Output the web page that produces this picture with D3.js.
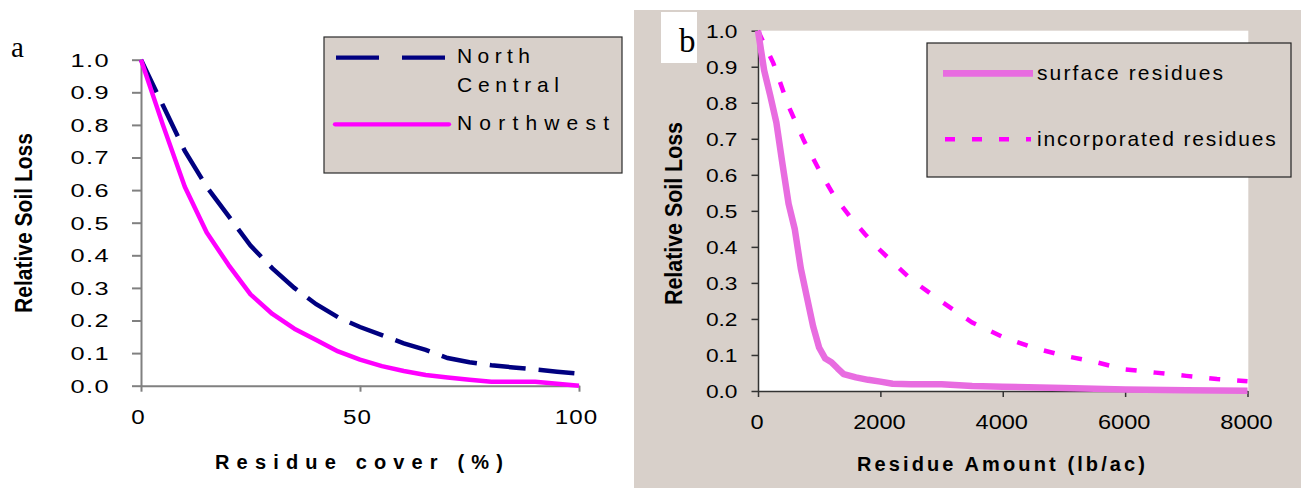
<!DOCTYPE html>
<html><head><meta charset="utf-8">
<script src="https://cdn.jsdelivr.net/npm/d3@7"></script>
<style>
body{margin:0;background:#fff}
svg{display:block}
text{font-family:"Liberation Sans",Arial,sans-serif;fill:#000}
</style>
</head><body>
<svg id="c" width="1301" height="492"></svg>
<script>
// ---- Panel a data ----
const coverPct = [0,5,10,15,20,25,30,35,40,45,50,55,60,65,70,75,80,85,90,95,100];
const northCentral = [1.0,0.86,0.72,0.61,0.52,0.43,0.36,0.30,0.25,0.21,0.18,0.155,0.13,0.11,0.085,0.072,0.063,0.056,0.05,0.043,0.037];
const northwest = [1.0,0.80,0.61,0.47,0.37,0.28,0.22,0.175,0.14,0.105,0.08,0.06,0.045,0.033,0.025,0.018,0.012,0.012,0.012,0.006,0.0];
const lossTicks = [0,0.1,0.2,0.3,0.4,0.5,0.6,0.7,0.8,0.9,1.0];
const coverTicks = [0,50,100];
const seriesA = ["North Central","Northwest"];

// ---- Panel b data ----
const surfaceAmt  = [0,100,200,300,400,500,600,700,800,900,1000,1100,1200,1300,1400,1600,1800,2000,2200,2500,3000,3500,4000,5000,6000,7000,8000];
const surfaceLoss = [1.0,0.89,0.82,0.745,0.63,0.52,0.45,0.34,0.26,0.18,0.12,0.09,0.08,0.063,0.047,0.038,0.031,0.026,0.02,0.019,0.019,0.014,0.012,0.008,0.004,0.002,0.001];
const incorpAmt  = [0,250,500,750,1000,1250,1500,1750,2000,2500,3000,3500,4000,4500,5000,5500,6000,6500,7000,7500,8000];
const incorpLoss = [1.0,0.91,0.79,0.695,0.613,0.54,0.485,0.435,0.39,0.31,0.248,0.19,0.15,0.12,0.098,0.081,0.06,0.051,0.042,0.033,0.027];
const amountTicks = [0,2000,4000,6000,8000];
const seriesB = ["surface residues","incorporated residues"];

const svg = d3.select("#c");

// horizontally stretch axis tick labels around their anchor point
function stretchTicks(g, sx, xPos){
  g.selectAll("text").attr("x", xPos/sx).attr("transform", `scale(${sx},1)`);
}

// ================= Panel a =================
const xA = d3.scaleLinear().domain([0,100]).range([141,579]);
const yA = d3.scaleLinear().domain([0,1]).range([385.7,59.7]);

const gAy = svg.append("g").attr("transform","translate(141,0)")
  .call(d3.axisLeft(yA).tickValues(lossTicks).tickFormat(d3.format(".1f")).tickSize(9).tickSizeOuter(0));
const gAx = svg.append("g").attr("transform","translate(0,385.7)")
  .call(d3.axisBottom(xA).tickValues(coverTicks).tickFormat(d3.format("d")).tickSize(6).tickSizeOuter(0));
[gAy,gAx].forEach(g=>{
  g.attr("font-family",null).attr("font-size",null);
  g.selectAll("path,line").attr("stroke","#808080").attr("stroke-width",2);
});
gAy.selectAll("text").attr("font-size",17.5).attr("dy","0.36em").style("letter-spacing","1px");
stretchTicks(gAy, 1.45, -31);
gAx.selectAll("text").attr("font-size",21).attr("y",38).attr("dy",0).style("letter-spacing","1px");
stretchTicks(gAx, 1.15, -3);

const lineA = d3.line().x((d,i)=>xA(coverPct[i])).y(d=>yA(d));
svg.append("path").attr("d",lineA(northCentral)).attr("fill","none")
  .attr("stroke","#000080").attr("stroke-width",4.5).attr("stroke-dasharray","36,13");
svg.append("path").attr("d",lineA(northwest)).attr("fill","none")
  .attr("stroke","#ff00ff").attr("stroke-width",4.5).attr("stroke-linejoin","round");

svg.append("text").attr("x",359).attr("y",469).attr("text-anchor","middle")
  .attr("font-size",20).attr("font-weight","bold").attr("textLength",288).attr("lengthAdjust","spacing")
  .text("Residue cover (%)");
svg.append("text").attr("transform","translate(32,223) rotate(-90)").attr("text-anchor","middle")
  .attr("font-size",23).attr("font-weight","bold").attr("textLength",180).attr("lengthAdjust","spacingAndGlyphs")
  .text("Relative Soil Loss");
svg.append("text").attr("x",11).attr("y",57).attr("font-size",29)
  .style("font-family","'Liberation Serif','Times New Roman',serif").text("a");

// legend a
svg.append("rect").attr("x",324).attr("y",37).attr("width",298).attr("height",136)
  .attr("fill","#d8d0ca").attr("stroke","#2a2a2a").attr("stroke-width",1.2);
svg.append("line").attr("x1",336).attr("x2",445).attr("y1",57.7).attr("y2",57.7)
  .attr("stroke","#000080").attr("stroke-width",4.3).attr("stroke-dasharray","43,23");
svg.append("line").attr("x1",335).attr("x2",449).attr("y1",124.3).attr("y2",124.3)
  .attr("stroke","#ff00ff").attr("stroke-width",4.3).attr("stroke-linecap","round");
const ncWords = seriesA[0].split(" ");
svg.append("text").attr("x",457).attr("y",62.7).attr("font-size",21).attr("textLength",73).attr("lengthAdjust","spacing").text(ncWords[0]);
svg.append("text").attr("x",457).attr("y",91.7).attr("font-size",21).attr("textLength",102).attr("lengthAdjust","spacing").text(ncWords[1]);
svg.append("text").attr("x",457).attr("y",130).attr("font-size",21).attr("textLength",152).attr("lengthAdjust","spacing").text(seriesA[1]);

// ================= Panel b =================
svg.append("rect").attr("x",634).attr("y",10).attr("width",667).attr("height",478).attr("fill","#d8d0ca");
const xB = d3.scaleLinear().domain([0,8000]).range([758,1247.5]);
const yB = d3.scaleLinear().domain([0,1]).range([391,30.7]);
svg.append("rect").attr("x",758).attr("y",30.7).attr("width",490.3).attr("height",360.3).attr("fill","#fff");

svg.append("rect").attr("x",661).attr("y",12).attr("width",36).attr("height",51).attr("fill","#fff");
svg.append("text").attr("x",679).attr("y",51.7).attr("font-size",33)
  .style("font-family","'Liberation Serif','Times New Roman',serif").text("b");

const gBy = svg.append("g").attr("transform","translate(758,0)")
  .call(d3.axisLeft(yB).tickValues(lossTicks).tickFormat(d3.format(".1f")).tickSize(6.5).tickSizeOuter(0));
const gBx = svg.append("g").attr("transform","translate(0,391)")
  .call(d3.axisBottom(xB).tickValues(amountTicks).tickFormat(d3.format("d")).tickSize(6).tickSizeOuter(0));
[gBy,gBx].forEach(g=>{
  g.attr("font-family",null).attr("font-size",null);
  g.selectAll("path,line").attr("stroke","#333").attr("stroke-width",1.5);
});
gBy.selectAll("text").attr("font-size",17.5).attr("dy","0.36em");
stretchTicks(gBy, 1.3, -20.5);
gBx.selectAll("text").attr("font-size",20).attr("y",38).attr("dy",0);
stretchTicks(gBx, 1.18, -1.5);

const lineS = d3.line().x((d,i)=>xB(surfaceAmt[i])).y(d=>yB(d));
const lineI = d3.line().x((d,i)=>xB(incorpAmt[i])).y(d=>yB(d));
svg.append("path").attr("d",lineI(incorpLoss)).attr("fill","none")
  .attr("stroke","#ff00ff").attr("stroke-width",4.5).attr("stroke-dasharray","11,17");
svg.append("path").attr("d",lineS(surfaceLoss)).attr("fill","none")
  .attr("stroke","#e86ce0").attr("stroke-width",6.5).attr("stroke-linejoin","round");

svg.append("text").attr("x",1001).attr("y",471).attr("text-anchor","middle")
  .attr("font-size",20).attr("font-weight","bold").attr("textLength",288).attr("lengthAdjust","spacing")
  .text("Residue Amount (lb/ac)");
svg.append("text").attr("transform","translate(682,213.5) rotate(-90)").attr("text-anchor","middle")
  .attr("font-size",23).attr("font-weight","bold").attr("textLength",183).attr("lengthAdjust","spacingAndGlyphs")
  .text("Relative Soil Loss");

// legend b
svg.append("rect").attr("x",927).attr("y",43).attr("width",364).attr("height",134)
  .attr("fill","#d8d0ca").attr("stroke","#222").attr("stroke-width",1.2);
svg.append("line").attr("x1",943).attr("x2",1033).attr("y1",73.3).attr("y2",73.3)
  .attr("stroke","#e86ce0").attr("stroke-width",6.7);
svg.append("line").attr("x1",945).attr("x2",1031).attr("y1",139.3).attr("y2",139.3)
  .attr("stroke","#ff00ff").attr("stroke-width",4.5).attr("stroke-dasharray","10,17");
svg.append("text").attr("x",1037).attr("y",80).attr("font-size",21).attr("textLength",186).attr("lengthAdjust","spacing").text(seriesB[0]);
svg.append("text").attr("x",1037).attr("y",146).attr("font-size",21).attr("textLength",238.7).attr("lengthAdjust","spacing").text(seriesB[1]);
</script>
</body></html>
